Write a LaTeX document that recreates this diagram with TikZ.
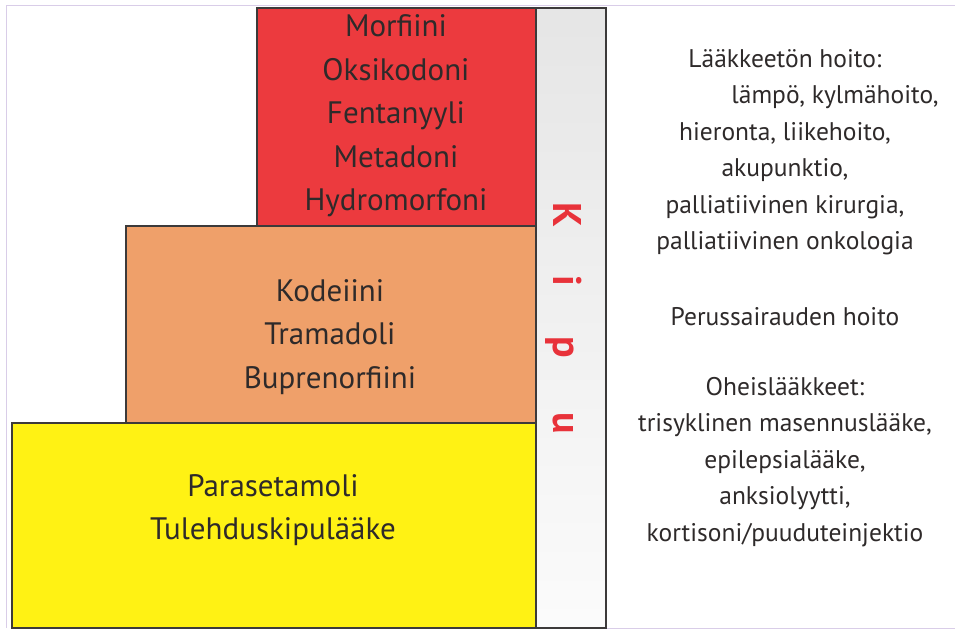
\documentclass[tikz,border=0pt]{standalone}
\usepackage{fontspec}
\setmainfont{PT Sans}

\definecolor{punainen}{HTML}{EC3A3E}
\definecolor{oranssi}{HTML}{EFA06A}
\definecolor{keltainen}{HTML}{FFF214}
\definecolor{reuna}{HTML}{3C3A3A}
\definecolor{kehys}{HTML}{D9CDE8}
\definecolor{kipuvari}{HTML}{E8323A}
\definecolor{teksti}{HTML}{2E2A2A}

\begin{document}
\begin{tikzpicture}[x=1pt, y=-1pt,
	porras/.style={draw=reuna, line width=2.5pt},
	laake/.style={text=teksti, align=center, font=\fontsize{31}{43.5}\selectfont},
	hoito/.style={text=teksti, align=center, font=\fontsize{25.5}{36.5}\selectfont},
	kirjain/.style={text=kipuvari, rotate=-90, anchor=base, inner sep=0pt, font=\fontsize{40}{40}\selectfont\bfseries}]
\useasboundingbox (0, 0) rectangle (955, 630);
% sivun reuna
	\draw[kehys, line width=1pt] (6, 628) -- (6, 5) -- (955, 5); %
	\draw[kehys, line width=1pt] (606, 628) -- (955, 628); %
% portaat
	\draw[porras, fill=keltainen] (12, 423) rectangle (536, 628); % 1. porras
	\draw[porras, fill=oranssi] (126, 226) rectangle (536, 423); % 2. porras
	\draw[porras, fill=punainen] (257, 8) rectangle (536, 226); % 3. porras
% kipu-palkki
	\shade[top color=gray!20, bottom color=gray!3] (536, 8) rectangle (606, 628);
	\draw[porras] (536, 8) rectangle (606, 628);
	\foreach \k/\y in {K/215, i/281, p/347, u/423}
		\node[kirjain] (kipu-\k) at (553, \y) {\k};
% lääkkeet
	\node[laake] (vahvat) at (396, 116) {Morfiini\\Oksikodoni\\Fentanyyli\\Metadoni\\Hydromorfoni};
	\node[laake] (heikot) at (330, 337) {Kodeiini\\Tramadoli\\Buprenorfiini};
	\node[laake] (perus) at (273, 510) {Parasetamoli\\Tulehduskipulääke};
% muu hoito
	\node[hoito] (laakkeeton) at (785, 152) {Lääkkeetön hoito:\\\hspace*{100pt}lämpö, kylmähoito,\\hieronta, liikehoito,\\akupunktio,\\palliatiivinen kirurgia,\\palliatiivinen onkologia};
	\node[hoito] (perussairaus) at (785, 317) {Perussairauden hoito};
	\node[hoito] (oheis) at (785, 462) {Oheislääkkeet:\\trisyklinen masennuslääke,\\epilepsialääke,\\anksiolyytti,\\kortisoni/puuduteinjektio};
\end{tikzpicture}
\end{document}
